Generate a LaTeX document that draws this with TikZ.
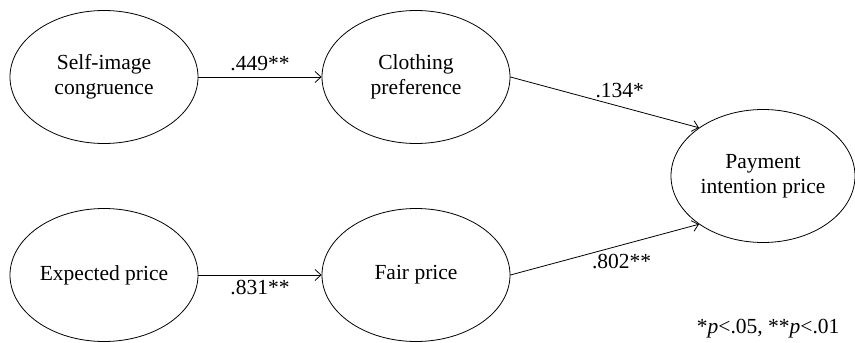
\documentclass[tikz,border=0pt]{standalone}
\usepackage{fontspec}
\setmainfont{Liberation Serif}
\usetikzlibrary{shapes.geometric,arrows.meta}

\begin{document}
\begin{tikzpicture}[x=1pt,y=-1pt,line cap=round,
    latent/.style={draw,ellipse,line width=0.8pt,minimum width=188pt,minimum height=133pt,
      inner sep=0pt,align=center,font=\fontsize{21.5}{25}\selectfont},
    path/.style={line width=0.8pt,-{Straight Barb[length=6pt,width=11pt]}},
    coef/.style={font=\fontsize{21.5}{25}\selectfont}]
  \useasboundingbox (0,0) rectangle (855,343);
  \node[latent] (sic) at (104,77) {Self-image\\congruence};
  \node[latent] (cp) at (416,77) {Clothing\\preference};
  \node[latent] (ep) at (104,275) {Expected price};
  \node[latent] (fp) at (416,275) {Fair price};
  \node[latent,minimum width=184pt] (pay) at (763,176) {Payment\\intention price};
  \draw[path] (sic) -- node[coef,above=2pt] {.449**} (cp);
  \draw[path] (ep) -- node[coef,below=1pt] {.831**} (fp);
  \draw[path] (cp.east) -- node[coef,pos=0.58,above=5pt] {.134*} (pay.143);
  \draw[path] (fp.east) -- node[coef,pos=0.59,below=5pt] {.802**} (pay.217);
  \node[coef,anchor=base east] (note) at (843,333) {*\textit{p}<.05, **\textit{p}<.01};
\end{tikzpicture}
\end{document}
